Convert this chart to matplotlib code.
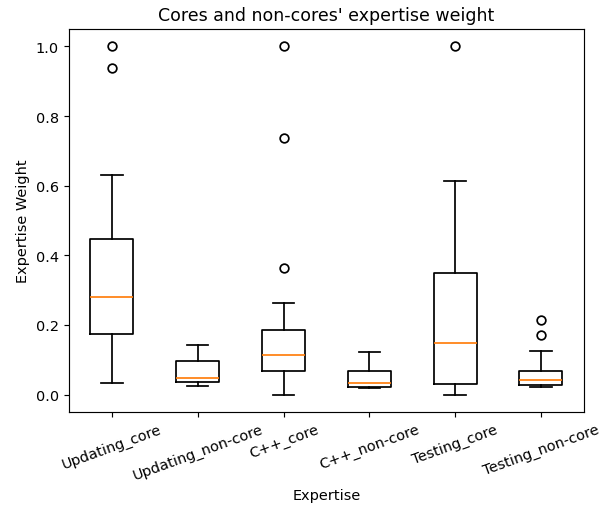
import matplotlib
matplotlib.use('Agg')
import matplotlib.pyplot as plt

# Box statistics.
labels = ['Updating_core', 'Updating_non-core', 'C++_core',
          'C++_non-core', 'Testing_core', 'Testing_non-core']
whisker_low = [0.034, 0.025, 0.0, 0.019, 0.0, 0.023]
q1 = [0.174, 0.036, 0.069, 0.022, 0.031, 0.027]
median = [0.280, 0.049, 0.115, 0.033, 0.147, 0.042]
q3 = [0.447, 0.096, 0.186, 0.067, 0.350, 0.069]
whisker_high = [0.630, 0.143, 0.264, 0.123, 0.612, 0.125]
fliers = [[1.0, 0.939], [], [1.0, 0.738, 0.364], [], [1.0], [0.213, 0.171]]

stats = []
for i in range(len(labels)):
    stats.append({'label': labels[i], 'whislo': whisker_low[i], 'q1': q1[i],
                  'med': median[i], 'q3': q3[i], 'whishi': whisker_high[i],
                  'fliers': fliers[i]})

# Slightly heavier lines, the reference looks a bit thicker.
lw = 1.2
fig = plt.figure(figsize=(600 / 104, 506 / 104), dpi=104)
ax = fig.add_axes([0.115, 0.1838, 0.858, 0.757])
ax.bxp(stats,
       boxprops={'linewidth': lw},
       whiskerprops={'linewidth': lw},
       capprops={'linewidth': lw},
       medianprops={'linewidth': lw, 'color': 'C1'},
       flierprops={'markeredgewidth': lw})

ax.set_title("Cores and non-cores' expertise weight")
ax.set_xlabel('Expertise')
ax.set_ylabel('Expertise Weight')
plt.setp(ax.get_xticklabels(), rotation=20)

fig.savefig('out.png', dpi=104)
